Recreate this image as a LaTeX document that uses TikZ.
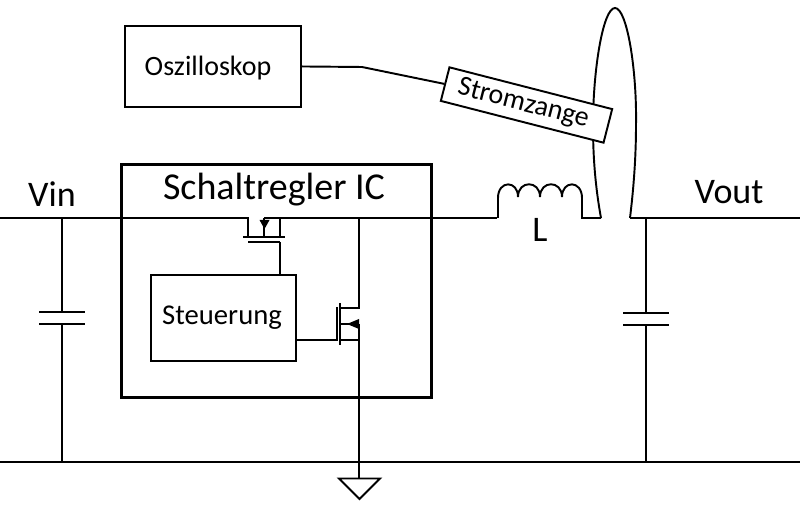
\documentclass[tikz,border=0pt]{standalone}
\usepackage{fontspec}
\setmainfont{Carlito}
\tikzset{
    wire/.style={line width=1.45pt,line join=miter},
    plate/.style={line width=1.45pt},
    icbox/.style={draw,line width=2.4pt,minimum width=232.5pt,minimum height=174.75pt,anchor=north west},
    blockbox/.style={draw,line width=1.45pt,anchor=north west},
    label/.style={inner sep=0pt,anchor=center},
}
\begin{document}
\begin{tikzpicture}[x=0.75pt,y=-0.75pt]
    \useasboundingbox (0,0) rectangle (800,516);
    % Stromschleife zuerst, die Zange liegt darueber
    \coordinate (loopl) at (601,218);
    \coordinate (loopr) at (630,218);
    \coordinate (looptop) at (615,8);
    \draw[wire] (loopl) .. controls (595,185) and (593,155) .. (593,125) .. controls (593,70) and (603,8) .. (looptop) .. controls (627,8) and (637,70) .. (636,125) .. controls (636,155) and (634,185) .. (loopr);

    % Bloecke
    \node[blockbox,minimum width=132pt,minimum height=60.75pt] (oszi) at (124,25) {};
    \node[label,font=\fontsize{21}{23}\selectfont] (oszitxt) at (208,68) {Oszilloskop};
    \node[draw,line width=1.45pt,fill=white,rotate=-14.4,minimum width=126pt,minimum height=26pt,inner sep=0pt,font=\fontsize{21}{23}\selectfont] (zange) at (526.5,105) {\hspace*{-5pt}Stromzange};
    \coordinate (knick) at (362,67);
    \draw[wire] (oszi.east) -- (knick) -- (zange.west);
    \node[icbox] (ic) at (120,163) {};
    \node[label,font=\fontsize{28.5}{30}\selectfont] (ictxt) at (274,190) {Schaltregler IC};
    \node[blockbox,minimum width=108.75pt,minimum height=64.5pt] (steuer) at (150,274) {};
    \node[label,font=\fontsize{21.5}{23}\selectfont] (steuertxt) at (222,318) {Steuerung};

    % Beschriftung
    \node[label,font=\fontsize{27}{29}\selectfont] (vin) at (52,194) {Vin};
    \node[label,font=\fontsize{27}{29}\selectfont] (vout) at (729,192) {Vout};
    \node[label,font=\fontsize{27}{29}\selectfont] (ltxt) at (540,230) {L};

    % Schiene und Eingang
    \coordinate (inl) at (0,218);
    \coordinate (outr) at (800,218);
    \coordinate (gndl) at (0,462);
    \coordinate (gndr) at (800,462);
    \draw[wire] (gndl) -- (gndr);

    % oberer PMOS
    \coordinate (pl) at (248,218);
    \coordinate (pm) at (264,218);
    \coordinate (pr) at (280,218);
    \draw[wire] (inl) -- (pl) -- (248,237);
    \draw[wire] (pm) -- (497,218);
    \draw[wire] (pr) -- (280,237);
    \draw[wire] (pm) -- (264,237);
    \fill (259.5,220) -- (269.5,220) -- (264.5,229) -- cycle;
    \draw[plate] (243,237) -- (285,237);
    \draw[plate] (248,242) -- (280,242);
    \draw[wire] (280,242) -- (280,274);

    % unterer NMOS
    \coordinate (nd) at (359,218);
    \draw[wire] (nd) -- (359,308) -- (340,308);
    \draw[plate] (340,303) -- (340,345);
    \draw[plate] (337,307) -- (337,341);
    \draw[wire] (295,340) -- (337,340);
    \draw[wire] (340,340) -- (359,340);
    \draw[wire] (340,324) -- (359,324);
    \fill (347,324) -- (359,319) -- (359,329) -- cycle;
    \coordinate (gnd) at (359,478.5);
    \draw[wire] (359,324) -- (gnd);
    \draw[wire] (339,478.5) -- (380,478.5) -- (359.5,499) -- cycle;

    % Spule
    \coordinate (coila) at (498,218);
    \coordinate (coilb) at (582,218);
    \draw[wire] (coila) -- (498,198)
        .. controls (498,180) and (518,180) .. (518,197)
        .. controls (518,180) and (540,180) .. (540,197)
        .. controls (540,180) and (562,180) .. (562,197)
        .. controls (562,180) and (582,180) .. (582,198)
        -- (coilb) -- (loopl);
    \draw[wire] (loopr) -- (outr);

    % Kondensatoren
    \foreach \cx/\cu in {62/312,646/313}{
        \draw[wire] (\cx,218) -- (\cx,\cu);
        \draw[plate] (\cx-23,\cu) -- (\cx+23,\cu);
        \draw[plate] (\cx-23,\cu+12) -- (\cx+23,\cu+12);
        \draw[wire] (\cx,\cu+12) -- (\cx,462);
    }
\end{tikzpicture}
\end{document}
